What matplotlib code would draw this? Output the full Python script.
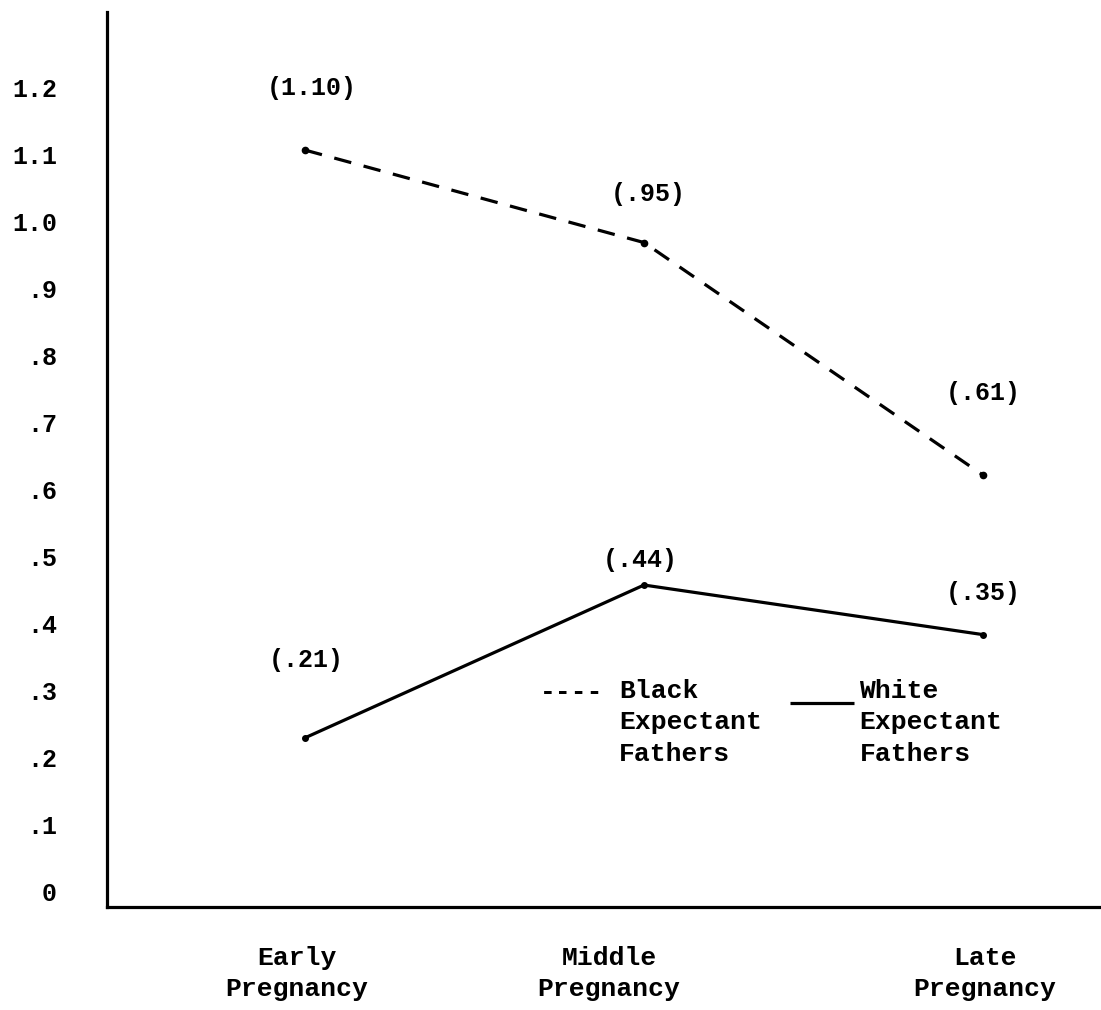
import matplotlib
matplotlib.use("Agg")
import matplotlib.pyplot as plt
from matplotlib.transforms import ScaledTranslation

# Data
stages = ["Early\nPregnancy", "Middle\nPregnancy", "Late\nPregnancy"]
black_values = [1.107, 0.969, 0.622]      # plotted positions
white_values = [0.230, 0.458, 0.384]
black_labels = ["(1.10)", "(.95)", "(.61)"]
white_labels = ["(.21)", "(.44)", "(.35)"]
yticks = [0, 0.1, 0.2, 0.3, 0.4, 0.5, 0.6, 0.7, 0.8, 0.9, 1.0, 1.1, 1.2]
ytick_labels = ["0", ".1", ".2", ".3", ".4", ".5", ".6", ".7", ".8", ".9", "1.0", "1.1", "1.2"]

W, H = 1101, 1010
fig = plt.figure(figsize=(W / 100, H / 100), dpi=100)
left_px, bottom_px, top_px = 107, 907, 12
ax = fig.add_axes([left_px / W, 1 - bottom_px / H, (W - left_px) / W, (bottom_px - top_px) / H])

mono = ["Liberation Mono", "DejaVu Sans Mono"]

x = [0, 1, 2]
ax.plot(x, black_values, color="black", lw=2.3, ls=(0, (5.5, 4)), marker="o", ms=4.5)
ax.plot(x, white_values, color="black", lw=2.3, ls="-", marker="o", ms=4)

# value annotations (offsets in points)
offs_black = [(5, 45), (3, 35), (0, 59)]
offs_white = [(1, 56), (-3, 18), (0, 30)]
for xi, v, lab, off in zip(x, black_values, black_labels, offs_black):
    ax.annotate(lab, (xi, v), xytext=off, textcoords="offset points", ha="center",
                va="center", fontsize=18, fontweight="bold", family=mono)
for xi, v, lab, off in zip(x, white_values, white_labels, offs_white):
    ax.annotate(lab, (xi, v), xytext=off, textcoords="offset points", ha="center",
                va="center", fontsize=18, fontweight="bold", family=mono)

ax.set_xlim(-0.584, 2.348)
ax.set_ylim(-0.0224, 1.313)
ax.set_yticks(yticks)
ax.set_yticklabels(ytick_labels, fontsize=18, fontweight="bold", family=mono)
ax.set_xticks(x)
ax.set_xticklabels(stages, fontsize=19, family=mono, fontweight="bold", linespacing=1.4)
ax.tick_params(axis="y", length=0, pad=36)
ax.tick_params(axis="x", length=0, pad=28)
x_shifts_px = [-8, -35, 2]
for lab, dx in zip(ax.get_xticklabels(), x_shifts_px):
    lab.set_transform(lab.get_transform() + ScaledTranslation(dx / 100, 0, fig.dpi_scale_trans))
for s in ["top", "right"]:
    ax.spines[s].set_visible(False)
ax.spines["left"].set_linewidth(2.3)
ax.spines["bottom"].set_linewidth(2.3)

# typed legend
ax.text(0.4356, 0.240, "----", transform=ax.transAxes, ha="left", va="center",
        fontsize=19, family=mono, fontweight="bold")
ax.text(0.515, 0.255, "Black\nExpectant\nFathers", transform=ax.transAxes, ha="left",
        va="top", fontsize=19, family=mono, fontweight="bold", linespacing=1.4)
ax.plot([0.687, 0.752], [0.228, 0.228], transform=ax.transAxes, color="black", lw=2.3,
        solid_capstyle="butt")
ax.text(0.757, 0.255, "White\nExpectant\nFathers", transform=ax.transAxes, ha="left",
        va="top", fontsize=19, family=mono, fontweight="bold", linespacing=1.4)

fig.savefig("out.png", dpi=100)
